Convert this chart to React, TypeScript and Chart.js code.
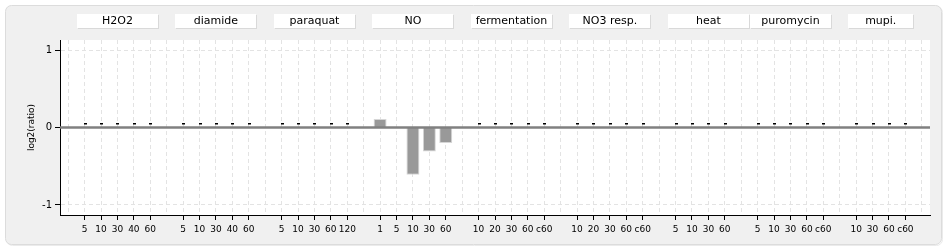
import React, { useEffect, useRef } from 'react';
import { Chart, registerables } from 'chart.js';

Chart.register(...registerables);

// ---- data ----
const groupNames = ['H2O2', 'diamide', 'paraquat', 'NO', 'fermentation', 'NO3 resp.', 'heat', 'puromycin', 'mupi.'];

const h2o2Times = ['5', '10', '30', '40', '60'];
const diamideTimes = ['5', '10', '30', '40', '60'];
const paraquatTimes = ['5', '10', '30', '60', '120'];
const noTimes = ['1', '5', '10', '30', '60'];
const fermentationTimes = ['10', '20', '30', '60', 'c60'];
const no3Times = ['10', '20', '30', '60', 'c60'];
const heatTimes = ['5', '10', '30', '60'];
const puromycinTimes = ['5', '10', '30', '60', 'c60'];
const mupiTimes = ['10', '30', '60', 'c60'];

// null = no measurement (drawn as a small dash)
const h2o2Values = [null, null, null, null, null];
const diamideValues = [null, null, null, null, null];
const paraquatValues = [null, null, null, null, null];
const noValues = [0.11, 0, -0.61, -0.31, -0.2];
const fermentationValues = [null, null, null, null, null];
const no3Values = [null, null, null, null, null];
const heatValues = [null, null, null, null];
const puromycinValues = [null, null, null, null, null];
const mupiValues = [null, null, null, null];

const headerSpans = [5, 5, 5, 5, 5, 5, 5, 5, 4];
const yTicks = [-1, 0, 1];
const yMin = -1.13;
const yMax = 1.13;

const groupTimes = [h2o2Times, diamideTimes, paraquatTimes, noTimes, fermentationTimes, no3Times, heatTimes, puromycinTimes, mupiTimes];
const groupValues = [h2o2Values, diamideValues, paraquatValues, noValues, fermentationValues, no3Values, heatValues, puromycinValues, mupiValues];

// flatten into category slots (leading blank, blank separator after every group)
const labels: string[] = [''];
const values: (number | null)[] = [null];
const groupStarts: number[] = [];
groupTimes.forEach((times, g) => {
  groupStarts.push(labels.length);
  times.forEach((t, i) => {
    labels.push(t);
    values.push(groupValues[g][i]);
  });
  labels.push('');
  values.push(null);
});

const FONT = '"DejaVu Sans", Verdana, sans-serif';

const decorPlugin = {
  id: 'decor',
  beforeDraw(chart: any) {
    const { ctx, chartArea: a } = chart;
    ctx.save();
    ctx.fillStyle = '#ffffff';
    ctx.fillRect(0, 0, chart.width, chart.height);
    // panel shadow
    ctx.beginPath();
    ctx.roundRect(6.5, 6.5, 936, 239, 6);
    ctx.strokeStyle = '#ebebeb';
    ctx.lineWidth = 1;
    ctx.stroke();
    // panel
    ctx.beginPath();
    ctx.roundRect(5.5, 5.5, 936, 239, 6);
    ctx.fillStyle = '#f0f0f0';
    ctx.fill();
    ctx.strokeStyle = '#dcdcdc';
    ctx.stroke();
    // plot area
    ctx.fillStyle = '#ffffff';
    ctx.fillRect(a.left, a.top, a.right - a.left, a.bottom - a.top);
    // group headers
    const xs = chart.scales.x;
    const w = xs.getPixelForValue(1) - xs.getPixelForValue(0);
    const boxes = groupNames.map((name, i) => {
      const s = groupStarts[i];
      const span = headerSpans[i];
      const cx = (xs.getPixelForValue(s) + xs.getPixelForValue(s + span - 1)) / 2;
      const bw = Math.round(span * w) - 1;
      const left = Math.round(cx - bw / 2);
      return { name, cx, bw, left };
    });
    boxes.forEach((b) => {
      ctx.fillStyle = '#ffffff';
      ctx.fillRect(b.left, 14, b.bw, 14);
    });
    boxes.forEach((b) => {
      ctx.fillStyle = '#d9d9d9';
      ctx.fillRect(b.left + b.bw, 15, 1, 14);
      ctx.fillRect(b.left + 1, 28, b.bw, 1);
      ctx.fillStyle = '#000000';
      ctx.font = '11px ' + FONT;
      ctx.textAlign = 'center';
      ctx.textBaseline = 'middle';
      ctx.fillText(b.name, b.cx, 21);
    });
    ctx.restore();
  },
  afterDatasetsDraw(chart: any) {
    const { ctx, chartArea: a } = chart;
    const xs = chart.scales.x;
    const ys = chart.scales.y;
    const zy = ys.getPixelForValue(0);
    ctx.save();
    ctx.strokeStyle = '#808080';
    ctx.lineWidth = 2.5;
    ctx.beginPath();
    ctx.moveTo(a.left, zy);
    ctx.lineTo(a.right, zy);
    ctx.stroke();
    ctx.fillStyle = '#000000';
    values.forEach((v, i) => {
      if (v === null && labels[i]) {
        const px = xs.getPixelForValue(i);
        ctx.fillRect(Math.round(px) - 1, Math.round(zy) - 5, 3, 1.5);
      }
    });
    ctx.restore();
  },
};

export default function App() {
  const ref = useRef<HTMLCanvasElement | null>(null);
  useEffect(() => {
    if (!ref.current) return;
    const chart = new Chart(ref.current, {
      type: 'bar',
      data: {
        labels,
        datasets: [
          {
            data: values,
            backgroundColor: '#999999',
            borderColor: '#d6d6d6',
            borderWidth: 1,
            barPercentage: 0.79,
            categoryPercentage: 1,
          },
        ],
      },
      options: {
        animation: false,
        responsive: false,
        maintainAspectRatio: false,
        layout: { padding: { left: 0, right: 20, top: 40, bottom: 0 } },
        plugins: { legend: { display: false }, tooltip: { enabled: false } },
        scales: {
          x: {
            type: 'category',
            offset: true,
            grid: {
              offset: false,
              color: '#e3e3e3',
              lineWidth: 1,
              tickLength: 5,
              tickWidth: 1,
              tickColor: (c: any) => (labels[c.index] ? '#000000' : 'rgba(0,0,0,0)'),
            },
            border: { display: true, color: '#000000', width: 1, dash: [4, 3] },
            ticks: {
              autoSkip: false,
              maxRotation: 0,
              minRotation: 0,
              color: '#000000',
              font: { family: FONT, size: 9 },
              padding: 4,
            },
            afterFit: (s: any) => {
              s.height = 35;
            },
          },
          y: {
            min: yMin,
            max: yMax,
            afterBuildTicks: (s: any) => {
              s.ticks = yTicks.map((v) => ({ value: v }));
            },
            grid: {
              color: (c: any) => (c.tick && c.tick.value === 0 ? 'rgba(0,0,0,0)' : '#e3e3e3'),
              tickColor: '#000000',
              tickLength: 5,
              lineWidth: 1,
            },
            border: { display: true, color: '#000000', width: 1, dash: [4, 3] },
            ticks: {
              color: '#000000',
              font: { family: FONT, size: 10 },
              padding: 3,
            },
            title: {
              display: true,
              text: 'log2(ratio)',
              color: '#000000',
              font: { family: FONT, size: 9 },
              padding: { top: 26, bottom: 0 },
            },
            afterFit: (s: any) => {
              s.width = 60;
            },
          },
        },
      },
      plugins: [decorPlugin],
    } as any);
    return () => chart.destroy();
  }, []);
  return (
    <div style={{ position: 'absolute', left: 0, top: 0, width: 950, height: 250 }}>
      <canvas ref={ref} width={950} height={250} style={{ display: 'block' }} />
    </div>
  );
}
